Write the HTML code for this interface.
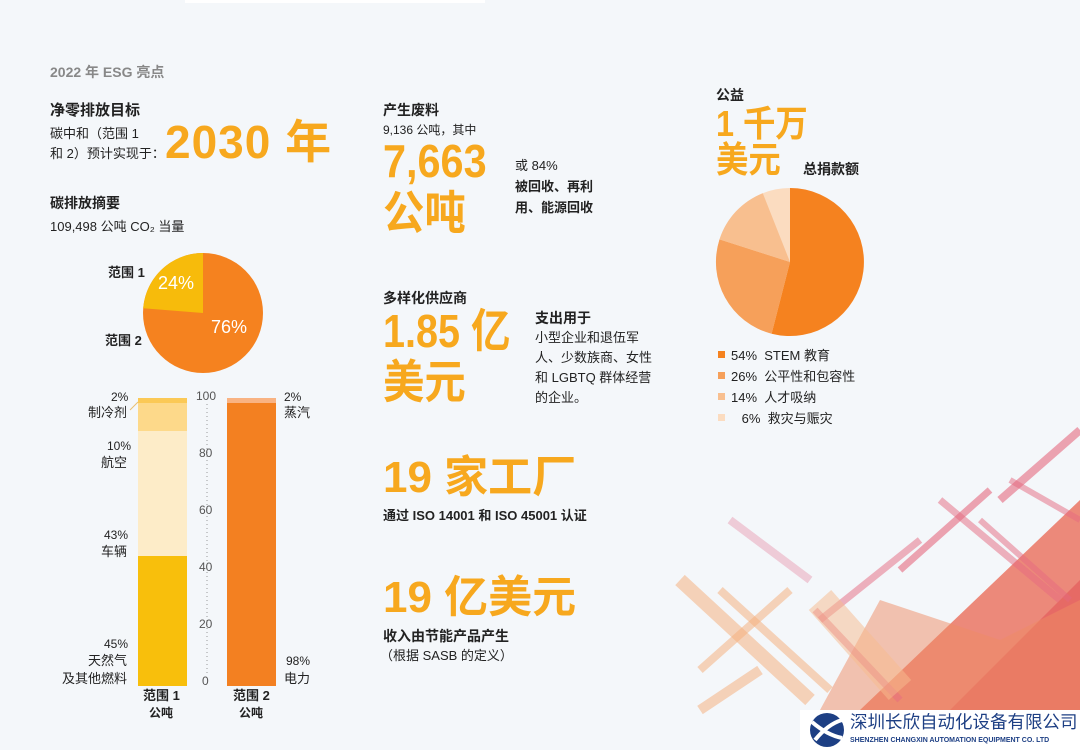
<!DOCTYPE html>
<html><head><meta charset="utf-8"><style>
body{margin:0;width:1080px;height:750px;overflow:hidden;background:#f4f7fa;font-family:"Liberation Sans","Noto Sans CJK SC",sans-serif;color:#222;position:relative}
.t{position:absolute;line-height:1;white-space:nowrap}
.b{font-weight:bold}
.s13{font-size:13px}
.big{font-weight:bold;color:#f7a81e;transform-origin:0 0;transform:scaleX(0.9)}
</style></head><body>
<svg width="1080" height="750" style="position:absolute;left:0;top:0">
<rect x="185" y="0" width="300" height="3" fill="#fff"/>
<g opacity="0.85">
<polygon points="1080,500 1080,710 860,710" fill="#e8553e" opacity="0.8"/>
<polygon points="1080,580 1080,710 950,710" fill="#e03a3a" opacity="0.6"/>
<polygon points="880,600 1000,640 1080,600 1080,710 820,710" fill="#ee7a4a" opacity="0.5"/>
<g stroke-linecap="butt">
<line x1="1000" y1="500" x2="1080" y2="430" stroke="#e2506a" stroke-width="8" opacity="0.6"/>
<line x1="900" y1="570" x2="990" y2="490" stroke="#e2506a" stroke-width="7" opacity="0.6"/>
<line x1="940" y1="500" x2="1060" y2="600" stroke="#e2506a" stroke-width="7" opacity="0.5"/>
<line x1="980" y1="520" x2="1070" y2="600" stroke="#e2506a" stroke-width="6" opacity="0.5"/>
<line x1="730" y1="520" x2="810" y2="580" stroke="#e590a8" stroke-width="8" opacity="0.5"/>
<line x1="820" y1="620" x2="920" y2="540" stroke="#e2506a" stroke-width="7" opacity="0.5"/>
<line x1="815" y1="610" x2="900" y2="700" stroke="#e2506a" stroke-width="7" opacity="0.5"/>
<line x1="680" y1="580" x2="810" y2="700" stroke="#f5a060" stroke-width="14" opacity="0.5"/>
<line x1="720" y1="590" x2="830" y2="690" stroke="#f5a060" stroke-width="8" opacity="0.5"/>
<line x1="700" y1="670" x2="790" y2="590" stroke="#f5a060" stroke-width="8" opacity="0.5"/>
<line x1="700" y1="710" x2="760" y2="670" stroke="#f5a060" stroke-width="10" opacity="0.5"/>
<line x1="820" y1="600" x2="900" y2="690" stroke="#f7b07a" stroke-width="30" opacity="0.5"/>
<line x1="1010" y1="480" x2="1080" y2="520" stroke="#e2506a" stroke-width="6" opacity="0.5"/>
</g></g>
<circle cx="203" cy="313" r="60" fill="#f5821f"/>
<path d="M203,313 L203,253 A60,60 0 0 0 143.2,308.2 Z" fill="#f7bb0b"/>
<g transform="translate(790,262)">
<circle r="74" fill="#fbdcc0"/>
<path d="M0,0 L0,-74 A74,74 0 1 1 -18.4,71.7 Z" fill="#f5821f"/>
<path d="M0,0 L-18.4,71.7 A74,74 0 0 1 -70.5,-22.6 Z" fill="#f6a05a"/>
<path d="M0,0 L-70.5,-22.6 A74,74 0 0 1 -27.2,-68.8 Z" fill="#f8bf8f"/>
</g>
<rect x="138" y="556" width="49" height="130" fill="#f8bf0c"/>
<rect x="138" y="431" width="49" height="125" fill="#fdecc8"/>
<rect x="138" y="403" width="49" height="28" fill="#fdd98a"/>
<rect x="138" y="398" width="49" height="5" fill="#fbc956"/>
<line x1="130" y1="410" x2="138" y2="402" stroke="#e8c070" stroke-width="1"/>
<rect x="227" y="403" width="49" height="283" fill="#f38021"/>
<rect x="227" y="398" width="49" height="5" fill="#f9b383"/>
<line x1="207" y1="404" x2="207" y2="676" stroke="#999" stroke-width="1" stroke-dasharray="1,3"/>
<rect x="718" y="351" width="7" height="7" fill="#f5821f"/>
<rect x="718" y="372" width="7" height="7" fill="#f6a05a"/>
<rect x="718" y="393" width="7" height="7" fill="#f8bf8f"/>
<rect x="718" y="414" width="7" height="7" fill="#fbdcc0"/>
<rect x="800" y="710" width="280" height="40" fill="#fff"/>
<circle cx="827" cy="730" r="17" fill="#1d3f84"/>
<path d="M812,722 Q827,735 842,738" stroke="#fff" stroke-width="4" fill="none"/>
<path d="M815,740 Q828,724 842,720" stroke="#fff" stroke-width="4" fill="none"/>
</svg>

<div class="t b" style="left:50px;top:65px;font-size:14px;color:#888">2022 年 ESG 亮点</div>
<div class="t b" style="left:50px;top:103px;font-size:15px">净零排放目标</div>
<div class="t s13" style="left:50px;top:127px">碳中和（范围 1</div>
<div class="t s13" style="left:50px;top:147px">和 2）预计实现于：</div>
<div class="t big" style="left:165px;top:119px;font-size:46px;transform:none;letter-spacing:1px">2030 年</div>
<div class="t b" style="left:50px;top:196px;font-size:14px">碳排放摘要</div>
<div class="t s13" style="left:50px;top:220px">109,498 公吨 CO₂ 当量</div>
<div class="t b s13" style="left:108px;top:266px">范围 1</div>
<div class="t b s13" style="left:105px;top:334px">范围 2</div>
<div class="t" style="left:158px;top:274px;font-size:18px;color:#fff">24%</div>
<div class="t" style="left:211px;top:318px;font-size:18px;color:#fff">76%</div>

<div class="t s13" style="left:111px;top:391px;font-size:12px">2%</div>
<div class="t s13" style="left:88px;top:406px">制冷剂</div>
<div class="t s13" style="left:107px;top:440px;font-size:12px">10%</div>
<div class="t s13" style="left:101px;top:456px">航空</div>
<div class="t s13" style="left:104px;top:529px;font-size:12px">43%</div>
<div class="t s13" style="left:101px;top:545px">车辆</div>
<div class="t s13" style="left:104px;top:638px;font-size:12px">45%</div>
<div class="t s13" style="left:88px;top:654px">天然气</div>
<div class="t s13" style="left:62px;top:672px">及其他燃料</div>
<div class="t s13" style="left:284px;top:391px;font-size:12px">2%</div>
<div class="t s13" style="left:284px;top:406px">蒸汽</div>
<div class="t s13" style="left:286px;top:655px;font-size:12px">98%</div>
<div class="t s13" style="left:284px;top:672px">电力</div>
<div class="t b s13" style="left:143px;top:689px">范围 1</div>
<div class="t b" style="left:149px;top:707px;font-size:12px">公吨</div>
<div class="t b s13" style="left:233px;top:689px">范围 2</div>
<div class="t b" style="left:239px;top:707px;font-size:12px">公吨</div>
<div class="t" style="left:196px;top:390px;font-size:12px;color:#555">100</div>
<div class="t" style="left:199px;top:447px;font-size:12px;color:#555">80</div>
<div class="t" style="left:199px;top:504px;font-size:12px;color:#555">60</div>
<div class="t" style="left:199px;top:561px;font-size:12px;color:#555">40</div>
<div class="t" style="left:199px;top:618px;font-size:12px;color:#555">20</div>
<div class="t" style="left:202px;top:675px;font-size:12px;color:#555">0</div>

<div class="t b" style="left:383px;top:103px;font-size:14px">产生废料</div>
<div class="t s13" style="left:383px;top:124px;font-size:12px">9,136 公吨，其中</div>
<div class="t big" style="left:383px;top:138px;font-size:46px">7,663</div>
<div class="t big" style="left:383px;top:190px;font-size:46px">公吨</div>
<div class="t s13" style="left:515px;top:159px">或 84%</div>
<div class="t b s13" style="left:515px;top:180px">被回收、再利</div>
<div class="t b s13" style="left:515px;top:201px">用、能源回收</div>

<div class="t b" style="left:383px;top:291px;font-size:14px">多样化供应商</div>
<div class="t big" style="left:383px;top:308px;font-size:46px;transform:scaleX(0.86)">1.85 亿</div>
<div class="t big" style="left:383px;top:359px;font-size:46px">美元</div>
<div class="t b" style="left:535px;top:311px;font-size:14px">支出用于</div>
<div class="t s13" style="left:535px;top:331px">小型企业和退伍军</div>
<div class="t s13" style="left:535px;top:351px">人、少数族商、女性</div>
<div class="t s13" style="left:535px;top:371px">和 LGBTQ 群体经营</div>
<div class="t s13" style="left:535px;top:391px">的企业。</div>

<div class="t big" style="left:383px;top:456px;font-size:44px;transform:none">19 家工厂</div>
<div class="t b s13" style="left:383px;top:509px">通过 ISO 14001 和 ISO 45001 认证</div>
<div class="t big" style="left:383px;top:576px;font-size:44px;transform:none">19 亿美元</div>
<div class="t b" style="left:383px;top:629px;font-size:14px">收入由节能产品产生</div>
<div class="t s13" style="left:380px;top:649px">（根据 SASB 的定义）</div>

<div class="t b" style="left:716px;top:88px;font-size:14px">公益</div>
<div class="t big" style="left:716px;top:106px;font-size:36px">1 千万</div>
<div class="t big" style="left:716px;top:142px;font-size:36px">美元</div>
<div class="t b" style="left:803px;top:162px;font-size:14px">总捐款额</div>
<div class="t s13" style="left:731px;top:349px">54%&nbsp; STEM 教育</div>
<div class="t s13" style="left:731px;top:370px">26%&nbsp; 公平性和包容性</div>
<div class="t s13" style="left:731px;top:391px">14%&nbsp; 人才吸纳</div>
<div class="t s13" style="left:738px;top:412px">&nbsp;6%&nbsp; 救灾与赈灾</div>

<div class="t" style="left:850px;top:714px;font-size:17.5px;color:#1d3f84">深圳长欣自动化设备有限公司</div>
<div class="t b" style="left:850px;top:737px;font-size:7px;color:#1d3f84">SHENZHEN CHANGXIN AUTOMATION EQUIPMENT CO. LTD</div>
</body></html>
